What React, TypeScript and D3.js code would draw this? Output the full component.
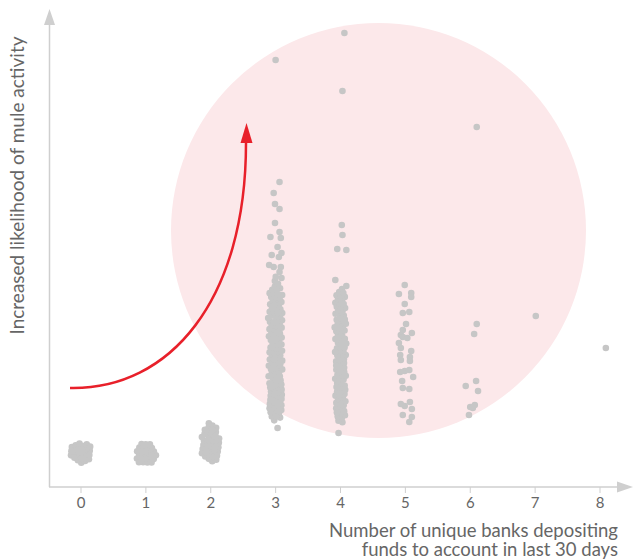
import React, { useMemo } from "react";
import * as d3 from "d3";

// x categories: number of unique banks depositing funds (0..8)
const xTicks = [0, 1, 2, 3, 4, 5, 6, 7, 8];

// dense observations per category (likelihood score)
const dense0 = [28, 30, 29, 32, 31, 34, 33, 35, 37, 36, 38, 40, 39, 41, 34, 30, 29, 32, 35, 38, 31, 36, 39, 33, 37, 40];
const dense1 = [25, 27, 26, 29, 28, 31, 30, 33, 32, 35, 34, 37, 36, 39, 38, 41, 42, 33, 27, 30, 34, 38, 40, 29, 36, 32];
const dense2 = [
  28, 30, 29, 32, 34, 33, 36, 35, 38, 40, 39, 42, 41, 44, 46, 45, 48, 47, 50, 52, 51, 54, 53, 56, 58, 57,
  31, 43, 49, 59, 37, 47, 55, 33, 41, 52, 39, 45, 50, 56,
];
const dense3 = [
  68, 71, 70, 74, 73, 76, 78, 77, 80, 82, 81, 84, 86, 85, 88, 89, 91, 90, 93, 95, 94, 97, 98, 100, 99, 102,
  104, 103, 106, 107, 109, 108, 111, 113, 112, 115, 116, 118, 117, 120, 122, 121, 124, 125, 127, 126, 129,
  131, 130, 133, 134, 136, 135, 138, 140, 139, 142, 143, 145, 144, 147, 149, 148, 151, 152, 154, 153, 156,
  158, 157, 160, 161, 163, 162, 165, 167, 166, 169, 170, 172, 171, 174, 176, 175, 178, 179, 181, 180, 183,
  185, 184, 187, 188, 190, 189, 192, 194, 193, 196, 198, 197, 200, 203, 206, 210, 72, 87, 101, 119, 137,
  155, 173, 191, 83, 110, 146, 164, 182, 92, 128,
];
const dense4 = [
  66, 69, 68, 72, 71, 75, 77, 76, 80, 79, 83, 85, 84, 88, 87, 91, 93, 92, 96, 95, 99, 101, 100, 104, 103,
  107, 109, 108, 112, 111, 115, 117, 116, 120, 119, 123, 125, 124, 128, 127, 131, 133, 132, 136, 135, 139,
  141, 140, 144, 143, 147, 149, 148, 152, 151, 155, 157, 156, 160, 159, 163, 165, 164, 168, 167, 171, 173,
  172, 176, 175, 179, 181, 180, 184, 183, 187, 189, 188, 192, 191, 195, 197, 74, 98, 122, 146, 170, 86,
  110, 134, 158, 182, 194,
];
const denseGroups = [dense0, dense1, dense2, dense3, dense4];

// sparse observations as [banks (with jitter as read), likelihood]
const sparse3 = [
  [3.0, 427], [3.06, 305], [2.97, 294], [2.99, 283], [3.06, 278], [2.99, 264], [3.06, 255], [2.92, 250],
  [3.08, 249], [3.03, 240], [3.09, 234], [2.94, 232], [3.05, 230], [2.9, 222], [2.97, 220], [3.08, 220],
  [3.06, 215], [3.09, 209], [3.03, 59],
];
const sparse4 = [
  [4.06, 454], [4.03, 396], [4.02, 262], [4.03, 252], [3.95, 238], [4.09, 237], [3.92, 207], [4.09, 201],
  [3.97, 54],
];
const sparse5 = [
  [4.99, 202], [4.9, 193], [5.09, 194], [5.09, 190], [4.99, 183], [4.96, 174], [5.06, 175], [5.01, 163],
  [4.96, 157], [5.1, 154], [4.93, 152], [4.96, 150], [5.03, 149], [4.9, 144], [4.93, 139], [5.09, 136],
  [4.92, 132], [5.07, 130], [4.93, 127], [5.07, 126], [4.92, 115], [4.99, 116], [5.06, 117], [5.12, 110],
  [4.95, 106], [4.96, 99], [5.06, 98], [4.93, 83], [4.99, 81], [5.07, 85], [5.1, 78], [4.96, 72],
  [5.1, 70], [5.06, 65],
];
const sparse6 = [
  [6.1, 360], [6.1, 163], [6.06, 153], [6.09, 106], [5.93, 101], [6.12, 96], [6.0, 80], [6.07, 82],
  [6.04, 79], [5.98, 72],
];
const sparse7 = [[7.01, 171]];
const sparse8 = [[8.09, 139]];
const sparseGroups = [sparse3, sparse4, sparse5, sparse6, sparse7, sparse8];

const xLabelLines = ["Number of unique banks depositing", "funds to account in last 30 days"];
const yLabel = "Increased likelihood of mule activity";

const W = 633;
const H = 560;
const FONT = "Lato, 'Open Sans', sans-serif";

export default function App() {
  const x = d3.scaleLinear().domain([0, 8]).range([81, 600]);
  const y = d3.scaleLinear().domain([0, 480]).range([487, 7]);

  const nodes = useMemo(() => {
    const ns: any[] = [];
    sparseGroups.forEach((g) =>
      g.forEach(([bx, v]) => {
        ns.push({ x: x(bx), y: y(v), fx: x(bx), fy: y(v) });
      })
    );
    denseGroups.forEach((g, i) =>
      g.forEach((v) => {
        ns.push({ tx: x(i), ty: y(v), x: x(i), y: y(v) });
      })
    );
    const sim = d3
      .forceSimulation(ns)
      .force("x", d3.forceX((d: any) => (d.tx ?? d.x)).strength(0.15))
      .force("y", d3.forceY((d: any) => (d.ty ?? d.y)).strength(0.6))
      .force("c", d3.forceCollide(2.1).strength(0.9))
      .stop();
    for (let i = 0; i < 300; i++) sim.tick();
    return ns;
  }, []);

  const arrowPath = "M70,388 C170,390 246,300 246,143";

  return (
    <svg
      width={W}
      height={H}
      style={{ position: "absolute", left: 0, top: 0, background: "#fff" }}
    >
      <circle cx={378.5} cy={230.5} r={207.5} fill="#fce8ea" />

      {/* axes */}
      <line x1={49.5} y1={24} x2={49.5} y2={487} stroke="#cfcfcf" strokeWidth={1.5} />
      <polygon points="49.5,9 44,25 55,25" fill="#cfcfcf" />
      <line x1={49} y1={487} x2={619} y2={487} stroke="#cfcfcf" strokeWidth={1.5} />
      <polygon points="633,487 617,481.5 617,492.5" fill="#cfcfcf" />
      {xTicks.map((t) => (
        <g key={t}>
          <line x1={x(t)} x2={x(t)} y1={487} y2={493} stroke="#cfcfcf" strokeWidth={1} />
          <text
            x={x(t)}
            y={508}
            textAnchor="middle"
            fontFamily={FONT}
            fontSize={15}
            fill="#666"
          >
            {t}
          </text>
        </g>
      ))}

      {/* points */}
      {nodes.map((d, i) => (
        <circle key={i} cx={d.x} cy={d.y} r={3.3} fill="#c6c6c6" />
      ))}

      {/* red arrow */}
      <path d={arrowPath} fill="none" stroke="#e8202a" strokeWidth={2.5} />
      <polygon points="246.5,123 240.5,143 252.5,143" fill="#e8202a" />

      {/* labels */}
      <text
        transform="translate(24,185.5) rotate(-90)"
        textAnchor="middle"
        fontFamily={FONT}
        fontSize={19}
        fill="#666"
      >
        {yLabel}
      </text>
      {xLabelLines.map((l, i) => (
        <text
          key={i}
          x={618}
          y={537 + i * 19}
          textAnchor="end"
          fontFamily={FONT}
          fontSize={18.5}
          fill="#666"
        >
          {l}
        </text>
      ))}
    </svg>
  );
}
